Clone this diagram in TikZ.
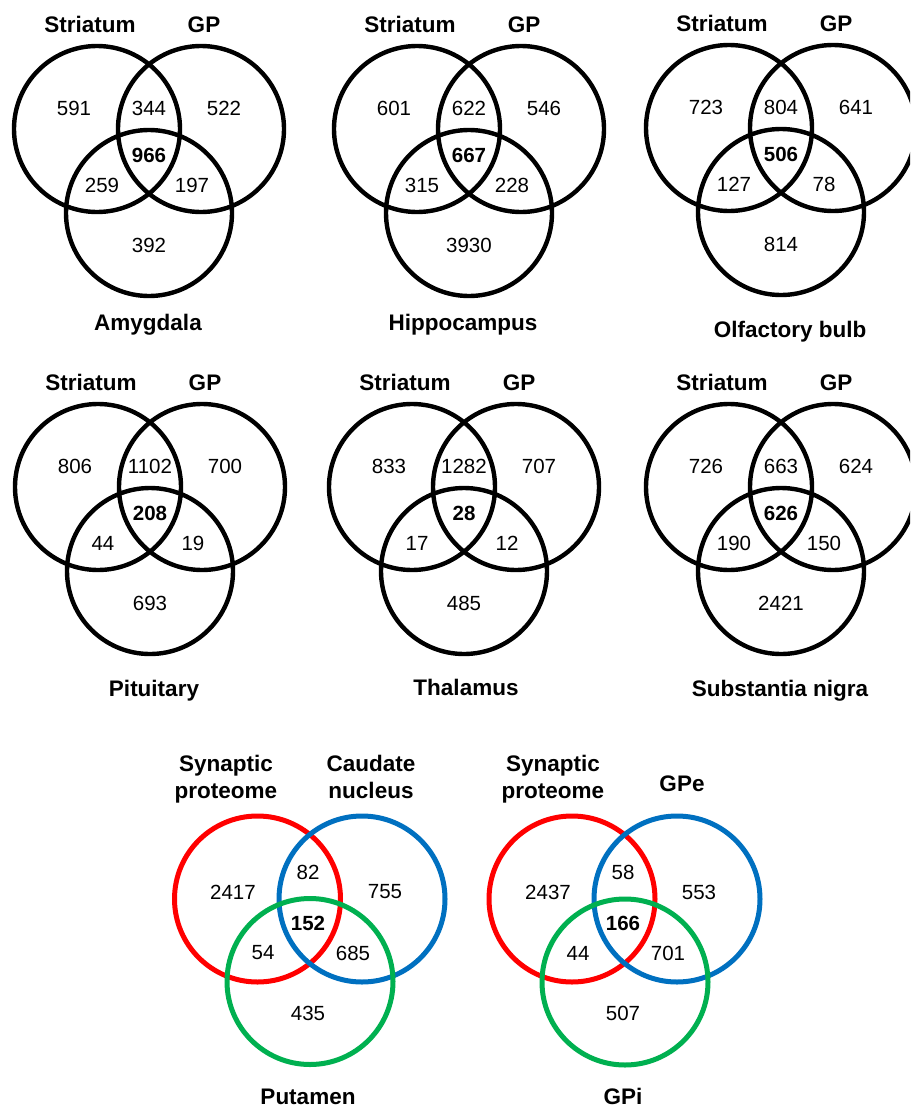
\documentclass[tikz,border=0pt]{standalone}
\usepackage{fontspec}
\setmainfont{Liberation Sans}
\usetikzlibrary{positioning}
\definecolor{vred}{RGB}{255,0,0}
\definecolor{vblue}{RGB}{0,112,192}
\definecolor{vgreen}{RGB}{0,176,80}
\tikzset{
  ring/.style={line width=4.4pt},
  cring/.style={line width=5pt},
  num/.style={inner sep=0pt,font=\fontsize{20.5}{24}\selectfont},
  core/.style={num,font=\fontsize{20.5}{24}\selectfont\bfseries},
  lab/.style={inner sep=0pt,anchor=base,align=center,
    font=\fontsize{22.5}{26.5}\selectfont\bfseries},
}

\begin{document}
\begin{tikzpicture}[x=1pt,y=-1pt]
  \clip (0,0) rectangle (910,1108);
  % Striatum / GP / region panels
  \foreach \i/\px/\py/\a/\ab/\b/\abc/\ac/\bc/\c/\reg/\lx/\ly in {
      1/97/129/591/344/522/966/259/197/392/Amygdala/51/201,
      2/417/129/601/622/546/667/315/228/3930/Hippocampus/46/201,
      3/729/128/723/804/641/506/127/78/814/Olfactory bulb/61/209,
      4/98/487/806/1102/700/208/44/19/693/Pituitary/56/209,
      5/412/487/833/1282/707/28/17/12/485/Thalamus/54/208,
      6/729/487/726/663/624/626/190/150/2421/Substantia nigra/51/209} {
    \draw[ring] (\px,\py) circle (83pt) (\px+104,\py) circle (83pt)
      (\px+52,\py+84) circle (83pt);
    \node[lab] (s\i) at (\px-7,\py-96.5) {Striatum};
    \node[lab] (g\i) at (\px+107,\py-96.5) {GP};
    \node[lab] (r\i) at (\px+\lx,\py+\ly) {\reg};
    \node[num] (a\i) at (\px-23,\py-20.5) {\a};
    \node[num] (ab\i) at (\px+52,\py-20.5) {\ab};
    \node[num] (b\i) at (\px+127,\py-20.5) {\b};
    \node[core] (abc\i) at (\px+52,\py+26.5) {\abc};
    \node[num] (ac\i) at (\px+5,\py+56.5) {\ac};
    \node[num] (bc\i) at (\px+95,\py+56.5) {\bc};
    \node[num] (c\i) at (\px+52,\py+116.5) {\c};
  }

  % synaptic proteome vs caudate / putamen
  \draw[cring,vred] (257.5,899) circle (83pt);
  \draw[cring,vblue] (362,899) circle (83pt);
  \draw[cring,vgreen] (310,981.5) circle (83pt);
  \node[lab] (syn7) at (226,798) {Synaptic\\proteome};
  \node[lab] (cau7) at (371,798) {Caudate\\nucleus};
  \node[lab] (put7) at (308,1104) {Putamen};
  \node[num] (a7) at (233,892) {2417};
  \node[num] (ab7) at (308,872) {82};
  \node[num] (b7) at (385,892) {755};
  \node[core] (abc7) at (308,923) {152};
  \node[num] (ac7) at (263,953) {54};
  \node[num] (bc7) at (353,953) {685};
  \node[num] (c7) at (308,1013) {435};

  % synaptic proteome vs GPe / GPi
  \draw[cring,vred] (572,899) circle (83pt);
  \draw[cring,vblue] (677,899) circle (83pt);
  \draw[cring,vgreen] (625,982) circle (83pt);
  \node[lab] (syn8) at (553,798) {Synaptic\\proteome};
  \node[lab] (gpe8) at (682,791) {GPe};
  \node[lab] (gpi8) at (623,1104) {GPi};
  \node[num] (a8) at (548,892) {2437};
  \node[num] (ab8) at (623,872) {58};
  \node[num] (b8) at (699,892) {553};
  \node[core] (abc8) at (623,923) {166};
  \node[num] (ac8) at (578,953) {44};
  \node[num] (bc8) at (668,953) {701};
  \node[num] (c8) at (623,1013) {507};
\end{tikzpicture}
\end{document}
